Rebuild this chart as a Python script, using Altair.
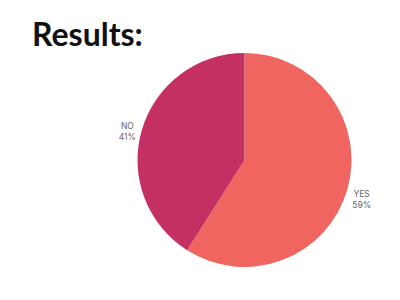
import altair as alt
import pandas as pd

# Survey answers and their shares (percent)
answers = ["YES", "NO"]
shares = [59, 41]
colors = ["#F0655F", "#C53064"]

df = pd.DataFrame({
    "answer": answers,
    "share": shares,
    "order": list(range(len(answers))),
})
df["label"] = [f"{a}\n{s}%" for a, s in zip(answers, shares)]

cx, cy = 244.5, 160

base = alt.Chart(df).encode(
    theta=alt.Theta("share:Q", stack=True),
    order=alt.Order("order:Q"),
)

pie = base.mark_arc(radius=107, x=cx, y=cy).encode(
    color=alt.Color("answer:N", scale=alt.Scale(domain=answers, range=colors), legend=None)
)

labels = base.mark_text(
    radius=122, x=cx, y=cy, align="center", baseline="middle",
    lineBreak="\n", fontSize=8.5, lineHeight=11, color="#666666", font="Inter",
).encode(text="label:N")

title = alt.Chart(pd.DataFrame({"t": ["Results:"]})).mark_text(
    align="left", baseline="alphabetic", fontSize=32, fontWeight="bold",
    font="Lato", color="#111111",
).encode(text="t:N", x=alt.value(32), y=alt.value(46))

chart = alt.layer(pie, labels, title).properties(
    width=400, height=300, padding=0, autosize=alt.AutoSizeParams(type="none")
).configure_view(stroke=None)

chart.save("out.html", embed_options={"renderer": "svg", "actions": False})
